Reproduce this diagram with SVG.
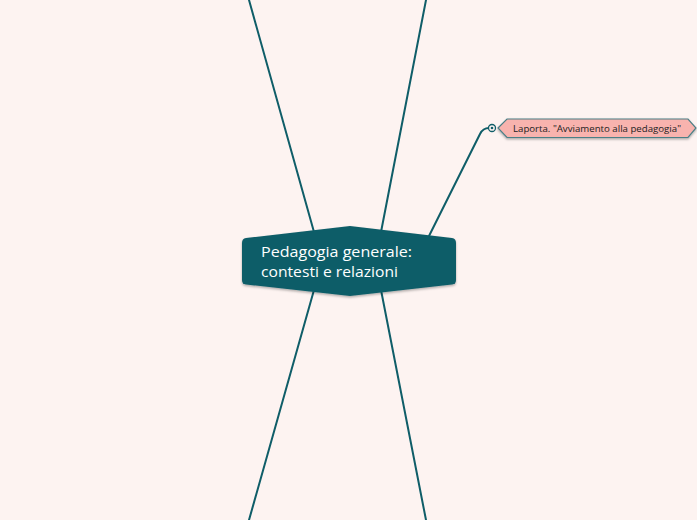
<svg xmlns="http://www.w3.org/2000/svg" width="697" height="520" viewBox="0 0 697 520">
<defs>
<style>
.conn{fill:none;stroke:#0f5d68;stroke-width:2;stroke-linecap:round}
.main{fill:#0f5d68}
.mt{font-family:"Open Sans",Lato,sans-serif;font-size:15px;fill:#ffffff}
.sub{fill:#f8b3ae;stroke:#4b7f86;stroke-width:1.2}
.st{font-family:"Open Sans",Lato,sans-serif;font-size:9px;fill:#222}
</style>
<filter id="sh" x="-10%" y="-20%" width="120%" height="150%">
<feDropShadow dx="0" dy="1.5" stdDeviation="1.2" flood-color="#000" flood-opacity="0.3"/>
</filter>
</defs>
<rect width="697" height="520" fill="#fdf3f1"/>
<g id="connectors">
<path class="conn" d="M249,0 L314,232"/>
<path class="conn" d="M426,0 L381,232"/>
<path class="conn" d="M314,290 L249,520"/>
<path class="conn" d="M381,290 L426,520"/>
<path class="conn" d="M429,236 L480,134 Q483,128 489,128"/>
</g>
<g id="central">
<path class="main" filter="url(#sh)" d="M246,238 L350,226 L452,238 Q456,238.5 456,243 L456,280 Q456,284 452,284.5 L350,296 L246,284.5 Q242,284 242,280 L242,243 Q242,238.5 246,238 Z"/>
<text class="mt" x="261" y="257" textLength="151" lengthAdjust="spacingAndGlyphs">Pedagogia generale:</text>
<text class="mt" x="261" y="277" textLength="137" lengthAdjust="spacingAndGlyphs">contesti e relazioni</text>
</g>
<g id="laporta">
<path class="sub" filter="url(#sh)" d="M498,128 L507,119 L688,119 L696,128 L688,137.5 L507,137.5 Z"/>
<text class="st" x="513" y="131.5" textLength="168" lengthAdjust="spacingAndGlyphs">Laporta. "Avviamento alla pedagogia"</text>
<circle cx="492" cy="128" r="3.5" fill="#fdf3f1" stroke="#0f5d68" stroke-width="1.3"/>
<circle cx="492" cy="128" r="1.3" fill="#0f5d68"/>
</g>
</svg>
